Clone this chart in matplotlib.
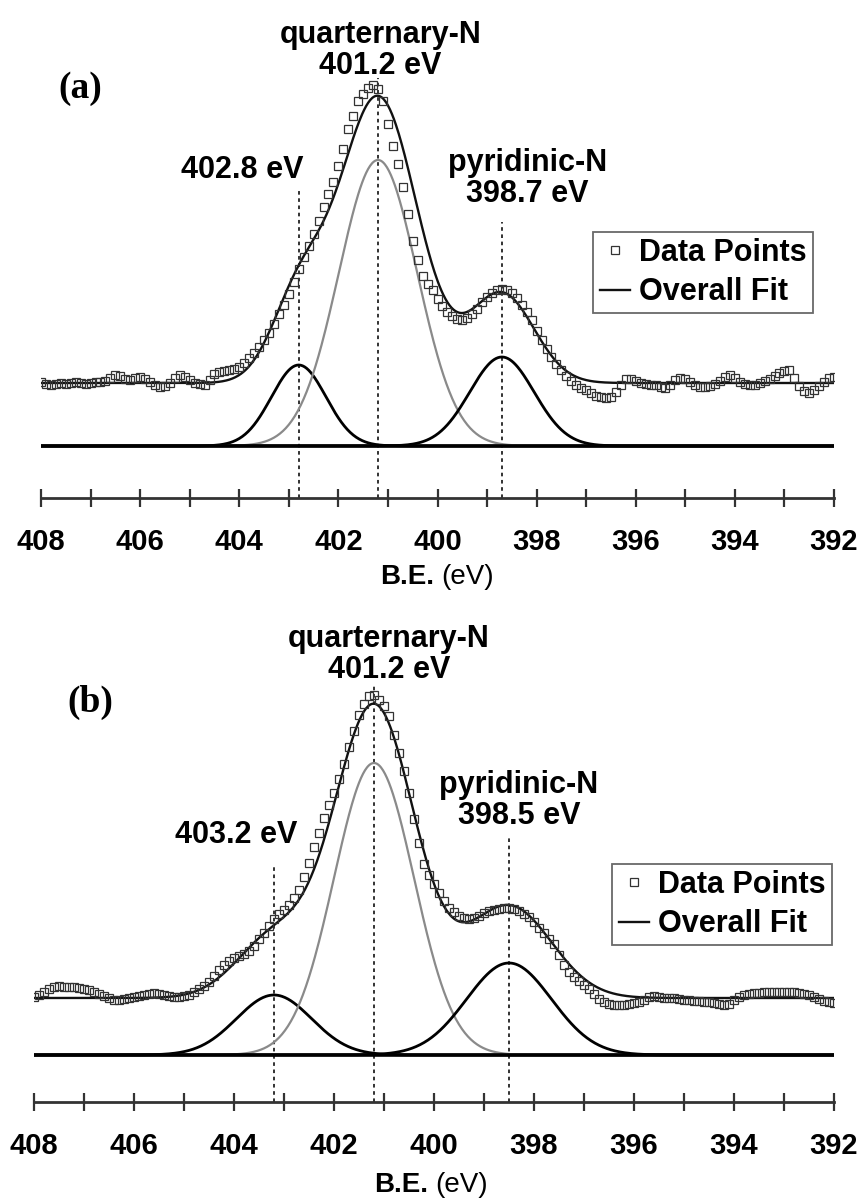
import numpy as np
import matplotlib
matplotlib.use("Agg")
import matplotlib.pyplot as plt
from matplotlib.ticker import MultipleLocator, FuncFormatter
from matplotlib.lines import Line2D

plt.rcParams["font.family"] = ["Liberation Sans", "DejaVu Sans"]

# binding energy of each data point (eV), 0.1 eV step from 408 down to 392
be = np.round(np.arange(408.0, 391.95, -0.1), 1)

# intensity above the component baseline (arb. units)
data_a = [
    64, 62, 61, 62, 63, 62, 63, 64, 63, 62,
    63, 64, 64, 65, 68, 71, 70, 67, 66, 68,
    69, 67, 64, 61, 59, 60, 63, 68, 71, 69,
    66, 63, 62, 61, 66, 72, 74, 75, 76, 77,
    79, 83, 88, 93, 99, 106, 113, 122, 132, 141,
    152, 164, 177, 189, 200, 212, 225, 239, 252, 264,
    280, 297, 317, 330, 345, 352, 358, 361, 357, 345,
    322, 300, 282, 259, 232, 205, 186, 170, 162, 156,
    147, 140, 134, 130, 127, 126, 128, 132, 137, 144,
    149, 153, 156, 157, 156, 153, 148, 141, 134, 126,
    115, 106, 97, 89, 82, 76, 70, 65, 61, 58,
    56, 53, 50, 49, 48, 49, 54, 61, 67, 67,
    65, 63, 62, 61, 61, 59, 58, 61, 66, 68,
    67, 64, 61, 59, 59, 60, 62, 65, 69, 71,
    68, 64, 62, 61, 61, 63, 65, 67, 70, 73,
    75, 76, 68, 60, 55, 53, 56, 60, 64, 68, 69,
]
data_b = [
    58, 60, 63, 66, 68, 69, 68, 68, 68, 67,
    66, 65, 63, 61, 59, 57, 55, 55, 56, 57,
    58, 59, 60, 61, 62, 61, 60, 59, 58, 58,
    59, 60, 63, 66, 69, 73, 79, 85, 90, 94,
    97, 99, 101, 104, 109, 116, 122, 129, 136, 141,
    145, 150, 157, 165, 178, 192, 208, 222, 237, 250,
    262, 276, 291, 308, 324, 340, 351, 359, 360, 355,
    349, 339, 320, 302, 284, 262, 236, 212, 191, 180,
    171, 162, 154, 147, 143, 139, 137, 136, 137, 139,
    142, 144, 145, 146, 147, 147, 146, 144, 141, 138,
    133, 127, 122, 116, 111, 100, 90, 83, 78, 74,
    70, 66, 61, 56, 53, 51, 50, 50, 50, 51,
    52, 53, 55, 58, 59, 58, 57, 57, 57, 56,
    55, 55, 54, 54, 53, 53, 52, 51, 50, 51,
    55, 58, 60, 61, 62, 62, 63, 63, 63, 63,
    63, 63, 63, 62, 61, 60, 58, 56, 54, 53, 52,
]

# fitted gaussian components: centre (eV), height, sigma (eV)
centers_a = [402.8, 401.2, 398.7]
heights_a = [81, 286, 89]
sigmas_a = [0.55, 0.79, 0.65]
bg_a = 63

centers_b = [403.2, 401.2, 398.5]
heights_b = [60, 292, 92]
sigmas_b = [0.75, 0.80, 0.85]
bg_b = 57

peak_labels_a = ["402.8 eV", "quarternary-N\n401.2 eV", "pyridinic-N\n398.7 eV"]
peak_labels_b = ["403.2 eV", "quarternary-N\n401.2 eV", "pyridinic-N\n398.5 eV"]

comp_colors = ["black", "#8a8a8a", "black"]
fine = np.linspace(408, 392, 801)


def gauss(x, c, h, s):
    return h * np.exp(-(x - c) ** 2 / (2 * s ** 2))


def draw_panel(ax, data, centers, heights, sigmas, bg, ylim, panel,
               panel_xy, line_tops, label_pos, xlabel_x, xlabel_y, legend_box):
    comps = [gauss(fine, c, h, s) for c, h, s in zip(centers, heights, sigmas)]
    for comp, col in zip(comps, comp_colors):
        lw = 1.6 if col != "black" else 2.0
        ax.plot(fine, comp, color=col, lw=lw, zorder=2)
    ax.plot([408, 392], [0, 0], color="black", lw=2.6, zorder=3)
    fit = bg + np.sum(comps, axis=0)
    ax.plot(fine, fit, color="#111111", lw=1.7, zorder=4)
    ax.plot(be, data, ls="none", marker="s", ms=6, mfc="none",
            mec="#333333", mew=0.9, zorder=5)

    for c, top in zip(centers, line_tops):
        ax.vlines(c, ylim[0], top, colors="#222222", lw=1.3,
                  linestyles=(0, (2, 2)), zorder=1)

    for txt, (x, y) in zip(label_pos[0], label_pos[1]):
        ax.text(x, y, txt, ha="center", va="baseline", fontsize=22,
                fontweight="bold", linespacing=1.05)

    ax.text(panel_xy[0], panel_xy[1], panel, ha="center", va="center",
            fontsize=27, fontweight="bold", family="Liberation Serif")

    # x label: "B.E." bold, "(eV)" regular, side by side
    ax.text(xlabel_x, xlabel_y, "B.E.", ha="right", va="center",
            fontsize=20, fontweight="bold")
    ax.text(xlabel_x - 0.14, xlabel_y, "(eV)", ha="left", va="center",
            fontsize=20)

    ax.set_xlim(408, 392)
    ax.set_ylim(*ylim)
    for s in ["top", "left", "right"]:
        ax.spines[s].set_visible(False)
    ax.spines["bottom"].set_linewidth(2.0)
    ax.spines["bottom"].set_color("#333333")
    ax.set_yticks([])
    ax.xaxis.set_major_locator(MultipleLocator(2))
    ax.xaxis.set_minor_locator(MultipleLocator(1))
    ax.xaxis.set_major_formatter(FuncFormatter(lambda v, p: f"{v:.0f}"))
    ax.tick_params(axis="x", which="both", direction="inout", length=13,
                   width=1.6, color="#333333")
    ax.tick_params(axis="x", which="major", pad=15, labelsize=21)
    for lab in ax.get_xticklabels():
        lab.set_fontweight("bold")

    handles = [
        Line2D([], [], ls="none", marker="s", ms=6, mfc="none",
               mec="#333333", mew=0.9),
        Line2D([], [], color="#111111", lw=1.7),
    ]
    leg = ax.legend(handles, ["Data Points", "Overall Fit"],
                    loc="upper right", bbox_to_anchor=legend_box,
                    bbox_transform=ax.figure.transFigure,
                    prop={"size": 22, "weight": "bold"}, frameon=True,
                    fancybox=False, handlelength=1.0, handletextpad=0.3,
                    borderpad=0.2, labelspacing=0.3, borderaxespad=0)
    leg.get_frame().set_edgecolor("#444444")
    leg.get_frame().set_linewidth(1.3)


fig = plt.figure(figsize=(8.61, 12), dpi=100)
W, H = 861.0, 1200.0

ax_a = fig.add_axes([41 / W, 1 - 498 / H, 793 / W, 488 / H])
draw_panel(
    ax_a, data_a, centers_a, heights_a, sigmas_a, bg_a, (-52, 436), "(a)",
    (407.21, 358), [256, 368, 224],
    (peak_labels_a, [(403.94, 268), (401.15, 372), (398.18, 244)]),
    400.06, -131, (813 / W, 1 - 232 / H),
)

ax_b = fig.add_axes([34 / W, 1 - 1102 / H, 800 / W, 462 / H])
draw_panel(
    ax_b, data_b, centers_b, heights_b, sigmas_b, bg_b, (-47, 415), "(b)",
    (406.88, 353), [190, 370, 220],
    (peak_labels_b, [(403.96, 212), (400.9, 377), (398.3, 231)]),
    400.12, -130, (832 / W, 1 - 864 / H),
)

fig.savefig("out.png", dpi=100, facecolor="white")
